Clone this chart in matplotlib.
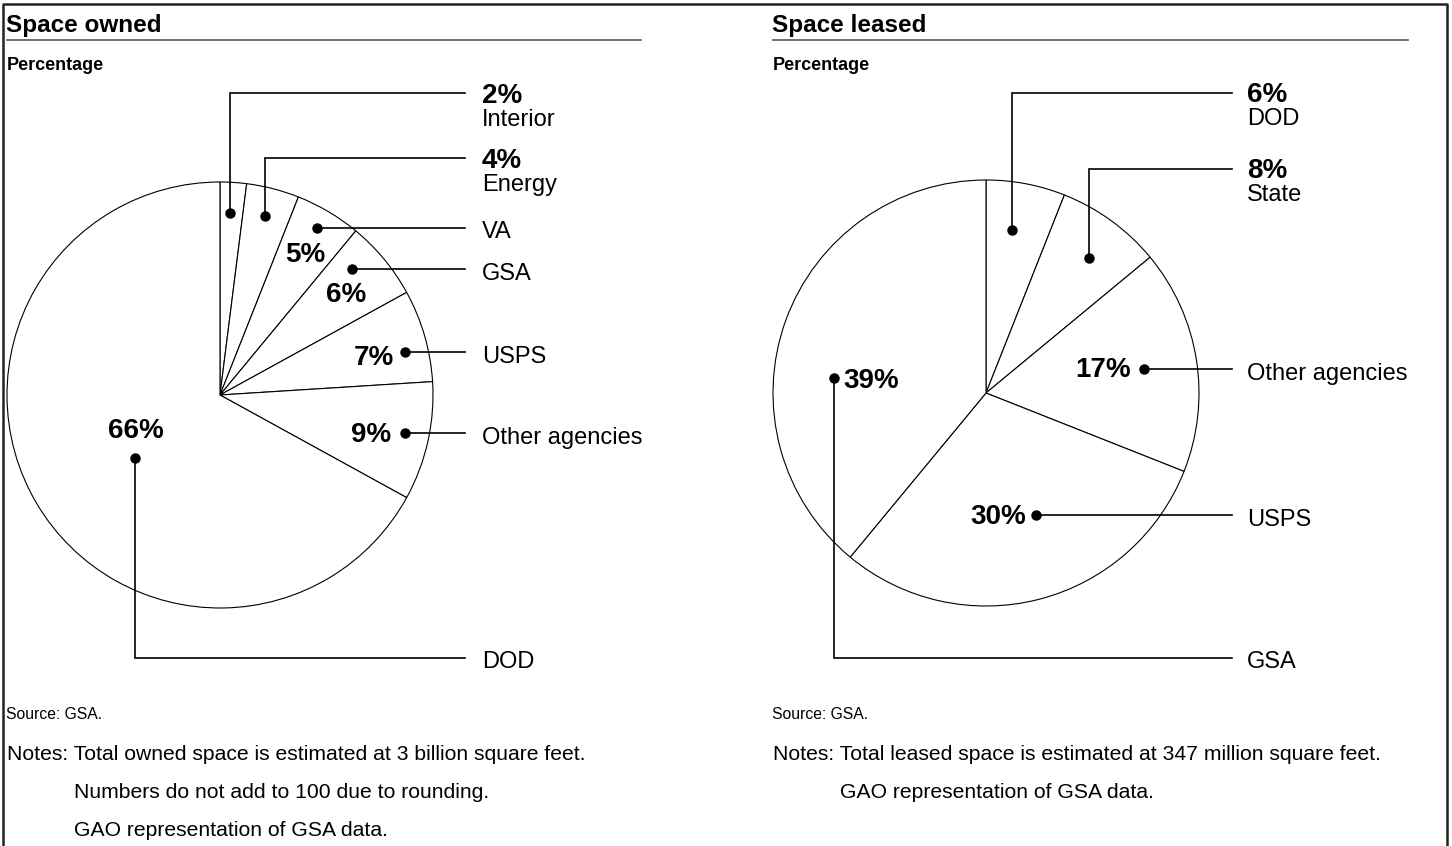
import matplotlib
matplotlib.use("Agg")
import matplotlib.pyplot as plt

plt.rcParams['font.family'] = ['Liberation Sans', 'DejaVu Sans']

# Space owned (percent), clockwise from 12 o'clock
owned_agencies = ["Interior", "Energy", "VA", "GSA", "USPS", "Other agencies", "DOD"]
owned_pct = [2, 4, 5, 6, 7, 9, 66]

# Space leased (percent), clockwise from 12 o'clock
leased_agencies = ["DOD", "State", "Other agencies", "USPS", "GSA"]
leased_pct = [6, 8, 17, 30, 39]

owned_notes = ["Total owned space is estimated at 3 billion square feet.",
               "Numbers do not add to 100 due to rounding.",
               "GAO representation of GSA data."]
leased_notes = ["Total leased space is estimated at 347 million square feet.",
                "GAO representation of GSA data."]

W, H = 1452, 846
PCT_SIZE = 20
NAME_SIZE = 17

# leader layout in pixel coords: dot, bend points, percent label position / alignment,
# name position (percent goes above the name when pct is None)
owned_layout = [
    dict(dot=(230, 213), path=[(230, 93), (465, 93)], pct=None, name=(482, 93)),
    dict(dot=(265, 216), path=[(265, 158), (465, 158)], pct=None, name=(482, 158)),
    dict(dot=(317, 228), path=[(465, 228)], pct=(305, 252, 'center'), name=(482, 229)),
    dict(dot=(352, 269), path=[(465, 269)], pct=(346, 292, 'center'), name=(482, 271)),
    dict(dot=(405, 352), path=[(465, 352)], pct=(394, 355, 'right'), name=(482, 354)),
    dict(dot=(405, 433), path=[(465, 433)], pct=(391, 432, 'right'), name=(482, 435)),
    dict(dot=(135, 458), path=[(135, 658), (465, 658)], pct=(136, 428, 'center'), name=(482, 660)),
]
leased_layout = [
    dict(dot=(1012, 230), path=[(1012, 93), (1232, 93)], pct=None, name=(1247, 92)),
    dict(dot=(1089, 258), path=[(1089, 169), (1232, 169)], pct=None, name=(1247, 168)),
    dict(dot=(1144, 369), path=[(1232, 369)], pct=(1131, 367, 'right'), name=(1247, 371)),
    dict(dot=(1036, 515), path=[(1232, 515)], pct=(1026, 514, 'right'), name=(1247, 517)),
    dict(dot=(834, 378), path=[(834, 658), (1232, 658)], pct=(843, 378, 'left'), name=(1247, 660)),
]


def draw_panel(ax, title, x0, line_end, values, names, layout, center, notes):
    # pie slices; last slice takes the rest so the circle closes
    sizes = list(values[:-1]) + [100 - sum(values[:-1])]
    ax.pie(sizes, center=center, radius=213, startangle=-90, counterclock=True,
           wedgeprops=dict(facecolor='white', edgecolor='black', linewidth=0.8))

    ax.text(x0 - 1, 23, title, fontsize=17.5, fontweight='bold', va='center_baseline')
    ax.plot([x0, line_end], [40, 40], color='#555555', lw=1.2)
    ax.text(x0, 63.5, "Percentage", fontsize=13, fontweight='bold', va='center_baseline')

    for val, name, lay in zip(values, names, layout):
        xs = [lay['dot'][0]] + [p[0] for p in lay['path']]
        ys = [lay['dot'][1]] + [p[1] for p in lay['path']]
        ax.plot(xs, ys, color='black', lw=1.2, solid_joinstyle='miter')
        ax.plot(*lay['dot'], 'o', color='black', markersize=6.5)
        nx, ny = lay['name']
        if lay['pct'] is None:
            ax.text(nx, ny, f"{val}%", fontsize=PCT_SIZE, fontweight='bold',
                    va='center_baseline')
            ax.text(nx, ny + 24.5, name, fontsize=NAME_SIZE, va='center_baseline')
        else:
            px, py, ha = lay['pct']
            ax.text(px, py, f"{val}%", fontsize=PCT_SIZE, fontweight='bold',
                    ha=ha, va='center_baseline')
            ax.text(nx, ny, name, fontsize=NAME_SIZE, va='center_baseline')

    ax.text(x0 - 1, 713, "Source: GSA.", fontsize=11.3, va='center_baseline')
    ax.text(x0, 752, "Notes: " + notes[0], fontsize=15.2, va='center_baseline')
    for i, n in enumerate(notes[1:]):
        ax.text(x0 + 67, 790 + 38 * i, n, fontsize=15.2, va='center_baseline')


fig = plt.figure(figsize=(W / 100, H / 100), dpi=100)
ax = fig.add_axes([0, 0, 1, 1])

draw_panel(ax, "Space owned", 7, 641, owned_pct, owned_agencies, owned_layout,
           (220, 395), owned_notes)
draw_panel(ax, "Space leased", 773, 1408, leased_pct, leased_agencies, leased_layout,
           (986, 393), leased_notes)

# frame round the figure (no bottom edge)
ax.plot([3, 3, 1447, 1447], [H, 4, 4, H], color='#222222', lw=1.8)

ax.set_xlim(0, W)
ax.set_ylim(H, 0)
ax.set_aspect('equal')
ax.axis('off')

fig.savefig("out.png", dpi=100)
